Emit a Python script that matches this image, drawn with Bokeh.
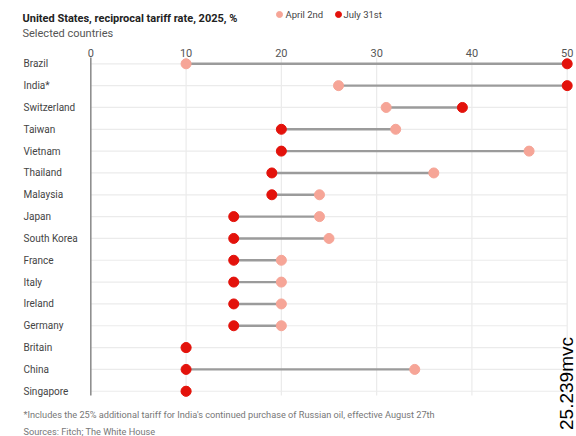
import math
from bokeh.plotting import figure
from bokeh.models import Range1d
from bokeh.core.properties import value
from bokeh.embed import file_html
from bokeh.resources import INLINE

# ---------------- data ----------------
countries = ["Brazil", "India*", "Switzerland", "Taiwan", "Vietnam", "Thailand",
             "Malaysia", "Japan", "South Korea", "France", "Italy", "Ireland",
             "Germany", "Britain", "China", "Singapore"]
april_2nd = [10, 26, 31, 32, 46, 36, 24, 24, 25, 20, 20, 20, 20, 10, 34, 10]
july_31st = [50, 50, 39, 20, 20, 19, 19, 15, 15, 15, 15, 15, 15, 10, 10, 10]
x_ticks = [0, 10, 20, 30, 40, 50]
tick_labels = ["0", "10", "20", "30", "40", "50"]
series_names = ["April 2nd", "July 31st"]
title_text = "United States, reciprocal tariff rate, 2025, %"
subtitle_text = "Selected countries"
footnote_text = ("*Includes the 25% additional tariff for India's continued purchase "
                 "of Russian oil, effective August 27th")
source_text = "Sources: Fitch; The White House"
watermark_text = "25.239mvc"

# ---------------- layout / style ----------------
W, H = 576, 436
X0_PX, PX_PER_UNIT = 90.3, 9.528      # pixel of x=0, pixels per percentage point
ROW0_PX, ROW_PX = 63.3, 21.83         # pixel of first row, pixels per row

def px_x(px):
    return (px - X0_PX) / PX_PER_UNIT

def px_y(py):
    # rows go downward: row k sits at y = -k
    return -(py - ROW0_PX) / ROW_PX

FONT = "Roboto"
PINK = "#F6A597"
RED = "#E3120B"

rows = [-i for i in range(len(countries))]

p = figure(width=W, height=H, output_backend="svg", toolbar_location=None,
           x_range=Range1d(px_x(0), px_x(W)), y_range=Range1d(px_y(H), px_y(0)),
           x_axis_location=None, y_axis_location=None, min_border=0,
           outline_line_color=None, background_fill_color="white",
           border_fill_color="white")
p.grid.visible = False

y_top, y_bot = px_y(57), px_y(395)

# gridlines
p.segment(x0=[0] * len(rows), x1=[x_ticks[-1]] * len(rows), y0=rows, y1=rows,
          line_color="#ebebeb", line_width=1.2)
p.segment(x0=x_ticks[1:], x1=x_ticks[1:], y0=[y_top] * 5, y1=[y_bot] * 5,
          line_color="#ebebeb", line_width=1.2)
# zero line
p.segment(x0=[0], x1=[0], y0=[y_top], y1=[y_bot], line_color="#8f8f8f", line_width=1.6)

# connectors and dots
p.segment(x0=april_2nd, x1=july_31st, y0=rows, y1=rows, line_color="#9b9b9b", line_width=2.4)
p.scatter(x=april_2nd, y=rows, size=10, fill_color=PINK, line_color=PINK)
p.scatter(x=july_31st, y=rows, size=10, fill_color=RED, line_color=RED)

# tick labels (top)
p.text(x=x_ticks, y=[px_y(52)] * len(x_ticks), text=tick_labels,
       text_font=value(FONT), text_font_size="11px", text_color="#555555",
       text_align="center", text_baseline="middle")

# country labels
p.text(x=[px_x(23)] * len(countries), y=rows, text=countries,
       text_font=value(FONT), text_font_size="10px", text_color="#444444",
       text_align="left", text_baseline="middle")

# title & subtitle
p.text(x=[px_x(22)], y=[px_y(18)], text=[title_text], text_font=value(FONT),
       text_font_size="11px", text_font_style="bold", text_color="#222222",
       text_align="left", text_baseline="alphabetic")
p.text(x=[px_x(22)], y=[px_y(33)], text=[subtitle_text], text_font=value(FONT),
       text_font_size="11px", text_color="#555555",
       text_align="left", text_baseline="alphabetic")

# legend
p.scatter(x=[px_x(279), px_x(338)], y=[px_y(14), px_y(14)], size=6,
          fill_color=[PINK, RED], line_color=[PINK, RED])
p.text(x=[px_x(285), px_x(343)], y=[px_y(14), px_y(14)], text=series_names,
       text_font=value(FONT), text_font_size="9.5px", text_color="#444444",
       text_align="left", text_baseline="middle")

# footnotes
p.text(x=[px_x(23), px_x(23)], y=[px_y(414), px_y(431)], text=[footnote_text, source_text],
       text_font=value(FONT), text_font_size="9.2px", text_color="#777777",
       text_align="left", text_baseline="middle")

# watermark (reads bottom to top), centred on x = 566
p.text(x=[px_x(566)], y=[px_y(383)], text=[watermark_text], angle=math.pi / 2,
       text_font=value("Liberation Sans"), text_font_size="19px", text_color="black",
       text_align="center", text_baseline="middle")

open("out.html", "w").write(file_html(p, INLINE))
